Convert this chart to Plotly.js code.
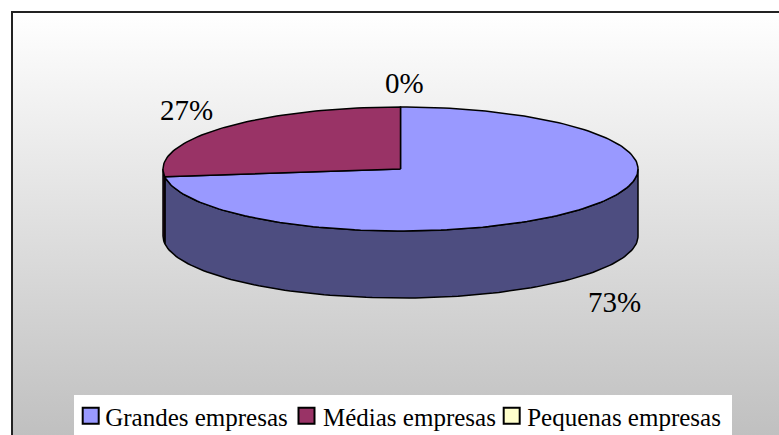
<!DOCTYPE html>
<html>
<head>
<meta charset="utf-8">
<script src="https://cdn.plot.ly/plotly-3.0.1.min.js"></script>
<style>
html,body{margin:0;padding:0;background:#fff;}
#wrap{position:relative;width:779px;height:435px;overflow:hidden;background:#fff;}
#bg{position:absolute;left:12px;top:12px;right:0;bottom:0;background:linear-gradient(to bottom,#ffffff,#c0c0c0);}
#chart{position:absolute;left:0;top:0;width:779px;height:435px;}
</style>
</head>
<body>
<div id="wrap"><div id="bg"></div><div id="chart"></div></div>
<script>
const categories = ['Grandes empresas', 'Médias empresas', 'Pequenas empresas'];
const values = [73, 27, 0];
const topColors = ['#9999FF', '#993366', '#FFFFCC'];
const wallColors = ['#4D4D80', '#4D1A33', '#808066'];
const labelX = [614, 186, 404];
const labelY = [302, 110, 83];
const legendItemShift = [0, 215.8, 421];
const legendTextGap = [34.5, 36.5, 35.5];

const W = 779, H = 435;
const cx = 400.5, cy = 169, rx = 237.5, ry = 62, depth = 67;
const pt = (deg, dy) => {
  const a = deg * Math.PI / 180;
  return [cx + rx * Math.sin(a), cy - ry * Math.cos(a) + (dy || 0)];
};
const arc = (from, to, dy) => {
  const out = [];
  const n = Math.max(2, Math.ceil(Math.abs(to - from) / 1.5));
  for (let i = 0; i <= n; i++) out.push(pt(from + (to - from) * i / n, dy));
  return out;
};
const total = values.reduce((a, b) => a + b, 0);
let start = 0;
const walls = [], tops = [], legendOnly = [];
values.forEach((v, i) => {
  const end = start + v / total * 360;
  const a = Math.max(start, 90), b = Math.min(end, 270);
  if (b > a) {
    const p = arc(a, b, 0).concat(arc(b, a, depth));
    p.push(p[0]);
    walls.push({type:'scatter', mode:'lines', x:p.map(q=>q[0]), y:p.map(q=>q[1]), fill:'toself',
      fillcolor:wallColors[i], line:{color:'#000', width:1.5}, showlegend:false, hoverinfo:'skip'});
  }
  if (v > 0) {
    const p = [[cx, cy]].concat(arc(start, end, 0));
    p.push([cx, cy]);
    tops.push({type:'scatter', mode:'lines', x:p.map(q=>q[0]), y:p.map(q=>q[1]), fill:'toself',
      fillcolor:topColors[i], line:{color:'#000', width:1.5}, showlegend:false, hoverinfo:'skip'});
  }
  legendOnly.push({type:'scatter', mode:'markers', x:[null], y:[null], name:categories[i],
    marker:{symbol:'square', size:16, color:topColors[i], line:{color:'#000', width:2}}, hoverinfo:'skip'});
  start = end;
});

const font = {family:'"Liberation Serif","Times New Roman",serif', color:'#000'};
const annotations = values.map((v, i) => ({
  x:labelX[i], y:labelY[i], xref:'x', yref:'y', text:v + '%', showarrow:false,
  font:Object.assign({size:29}, font), xanchor:'center', yanchor:'middle'
}));

const layout = {
  width:W, height:H, margin:{l:0,r:0,t:0,b:0,pad:0,autoexpand:false},
  paper_bgcolor:'rgba(0,0,0,0)', plot_bgcolor:'rgba(0,0,0,0)',
  showlegend:true,
  xaxis:{range:[0,W], visible:false, fixedrange:true},
  yaxis:{range:[H,0], visible:false, fixedrange:true},
  annotations,
  shapes:[
    {type:'line', xref:'x', yref:'y', x0:12, x1:12, y0:11, y1:H, line:{color:'#222', width:2}},
    {type:'line', xref:'x', yref:'y', x0:11, x1:W, y0:12, y1:12, line:{color:'#222', width:2}},
    {type:'rect', xref:'x', yref:'y', x0:74, x1:732, y0:395, y1:H, fillcolor:'#fff', line:{width:0}}
  ],
  legend:{orientation:'h', x:70.7/W, y:1-393/H, xanchor:'left', yanchor:'top',
    bgcolor:'rgba(0,0,0,0)', font:Object.assign({size:25}, font), itemclick:false, itemdoubleclick:false,
    itemwidth:30, borderwidth:0}
};
Plotly.newPlot('chart', walls.concat(tops, legendOnly), layout, {displayModeBar:false, staticPlot:true}).then(() => {
  document.querySelectorAll('#chart .legend .traces').forEach((g, i) => {
    const y = g.transform.baseVal.consolidate().matrix.f;
    g.setAttribute('transform', 'translate(' + legendItemShift[i] + ',' + y + ')');
    g.querySelector('.legendtext').setAttribute('x', legendTextGap[i]);
  });
});
</script>
</body>
</html>
